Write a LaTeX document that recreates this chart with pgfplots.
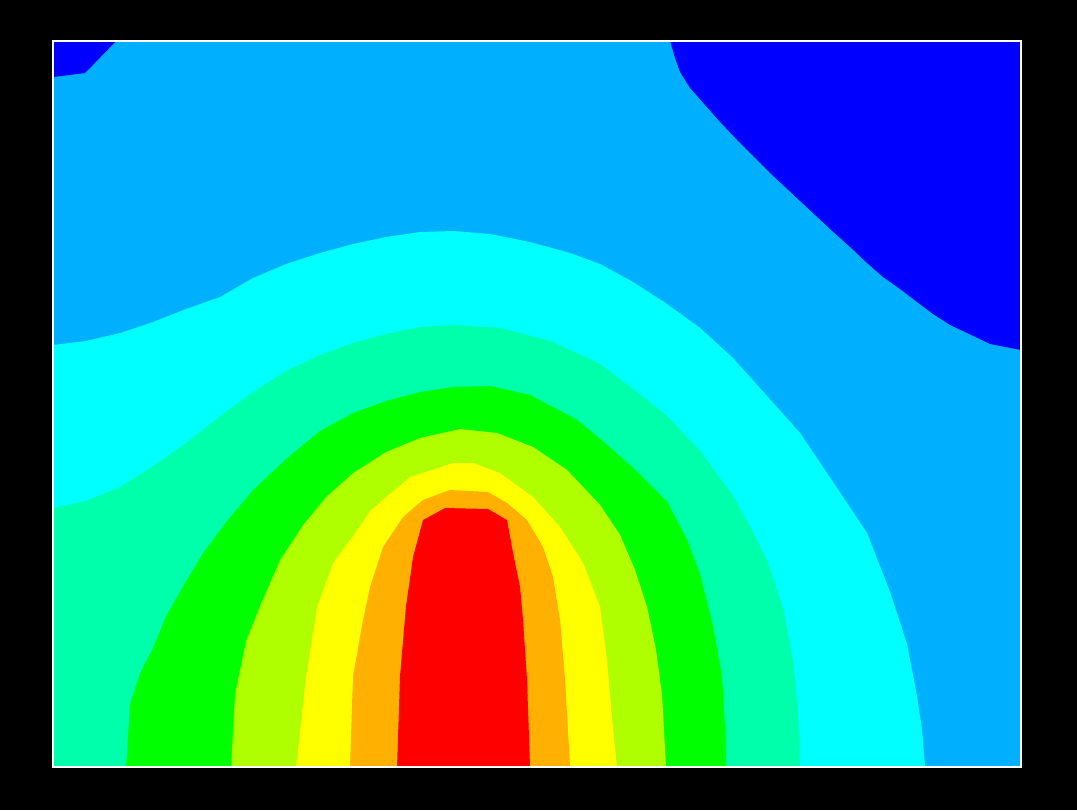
\documentclass[border=0pt]{standalone}
\usepackage{pgfplots}
\pgfplotsset{compat=1.18}
\definecolor{cLB}{RGB}{0,176,255}
\definecolor{cDB}{RGB}{0,0,255}
\definecolor{cCY}{RGB}{0,255,255}
\definecolor{cAQ}{RGB}{0,255,170}
\definecolor{cGR}{RGB}{0,255,0}
\definecolor{cYG}{RGB}{176,255,0}
\definecolor{cYE}{RGB}{255,255,0}
\definecolor{cOR}{RGB}{255,176,0}
\definecolor{cRE}{RGB}{255,0,0}
\begin{document}
\begin{tikzpicture}
\begin{axis}[scale only axis,width=9.68cm,height=7.26cm,
  xmin=53,xmax=1021,ymin=41,ymax=767,y dir=reverse,
  ticks=none,clip=false,axis on top,
  axis line style={white,line width=0.6pt}]
% black page
\fill[black] (axis cs:0,0) rectangle (axis cs:1077,810);
% lowest level fills the whole field
\addplot[fill=cLB,draw=none] coordinates {(53,41) (1021,41) (1021,767) (53,767)} -- cycle;
\addplot[fill=cDB,draw=none] coordinates {(53,41) (116,41) (85,73) (53,77)} -- cycle;
\addplot[fill=cDB,draw=none] coordinates {(670,41) (1021,41) (1021,350) (990,344) (967,333) (950,325) (933,314) (917,302) (900,289) (883,277) (867,263) (850,247) (830,229) (815,215) (800,201) (785,187) (770,173) (755,158) (740,143) (720,122) (705,105) (690,88) (680,72) (675,58)} -- cycle;
\addplot[fill=cCY,draw=none] coordinates {(53,345) (86,341) (120,333) (153,322) (186,309) (220,297) (253,278) (286,264) (320,253) (353,244) (386,237) (420,232) (453,231) (490,234) (530,242) (570,253) (600,264) (633,282) (667,304) (700,328) (733,358) (767,396) (800,433) (833,482) (867,533) (890,592) (907,644) (917,696) (922,730) (925,767) (53,767)} -- cycle;
\addplot[fill=cAQ,draw=none] coordinates {(53,508) (86,501) (120,487) (153,466) (186,443) (220,416) (253,392) (286,371) (320,355) (353,343) (386,334) (420,327) (453,325) (500,328) (550,341) (600,364) (633,389) (667,416) (700,451) (733,496) (750,527) (767,561) (783,609) (793,661) (798,713) (800,767) (53,767)} -- cycle;
\addplot[fill=cGR,draw=none] coordinates {(126,767) (130,704) (140,673) (153,648) (166,616) (186,581) (203,553) (226,522) (253,490) (286,459) (320,431) (353,413) (386,401) (420,392) (453,387) (490,386) (530,395) (577,420) (600,439) (633,468) (667,502) (687,540) (700,575) (713,627) (722,678) (725,730) (726,767)} -- cycle;
\addplot[fill=cYG,draw=none] coordinates {(231,767) (235,694) (246,641) (260,606) (280,560) (303,525) (326,497) (353,473) (386,452) (420,438) (460,429) (497,433) (533,447) (567,470) (600,505) (620,535) (635,570) (647,607) (656,650) (662,695) (666,767)} -- cycle;
\addplot[fill=cYE,draw=none] coordinates {(296,767) (306,676) (317,607) (333,563) (353,536) (370,511) (386,497) (410,477) (453,463) (473,463) (500,473) (533,497) (560,527) (583,563) (600,607) (607,661) (613,730) (617,767)} -- cycle;
\addplot[fill=cOR,draw=none] coordinates {(350,767) (353,676) (363,620) (370,587) (383,547) (403,517) (423,500) (450,490) (488,492) (507,503) (527,520) (543,547) (553,577) (560,620) (565,680) (570,767)} -- cycle;
\addplot[fill=cRE,draw=none] coordinates {(397,767) (400,676) (406,606) (413,557) (423,520) (445,508) (488,509) (507,520) (513,553) (520,587) (523,620) (527,680) (530,767)} -- cycle;
\end{axis}
\end{tikzpicture}
\end{document}
